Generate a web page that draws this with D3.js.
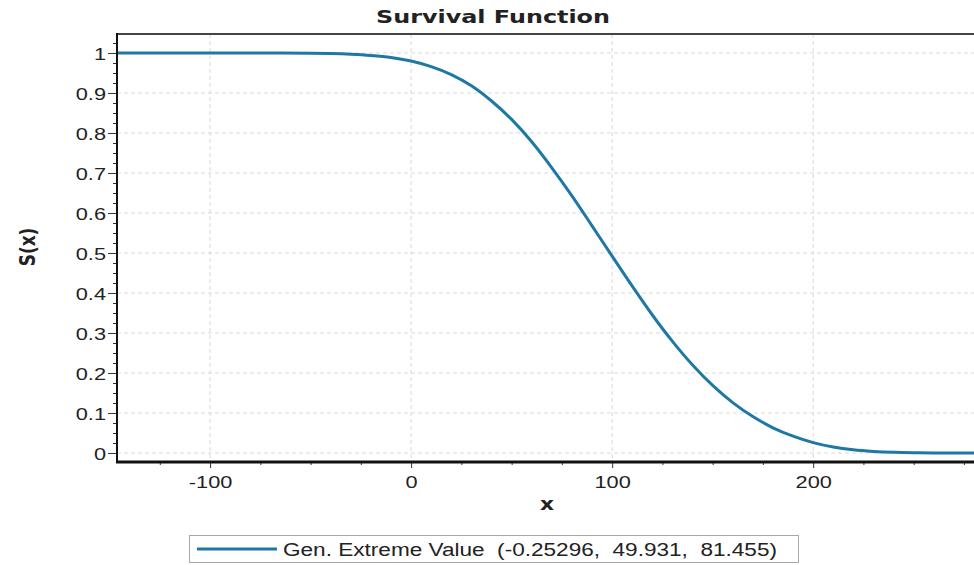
<!DOCTYPE html>
<html>
<head>
<meta charset="utf-8">
<script src="https://cdn.jsdelivr.net/npm/d3@7"></script>
<style>
	body { margin: 0; background: #fff; }
	svg { display: block; }
	text { font-family: "Liberation Sans", Arial, sans-serif; fill: #222; white-space: pre; }
	.bold { font-family: "DejaVu Sans", Verdana, sans-serif; font-weight: bold; }
</style>
</head>
<body>
<svg width="974" height="565"></svg>
<script>

var TITLE		= "Survival Function";
var X_LABEL		= "x";
var Y_LABEL		= "S(x)";
var LEGEND_LABEL	= "Gen. Extreme Value  (-0.25296,  49.931,  81.455)";

// points
var xValues = [-146, -125, -100, -75, -50, -40, -30, -20, -10, 0, 10, 20, 30, 40, 50, 60, 70, 80, 90,
	100, 110, 120, 130, 140, 150, 160, 170, 180, 190, 200, 210, 220, 230, 240, 250, 260, 270, 280];
var sValues = [1.000, 1.000, 1.000, 1.000, 0.9995, 0.9987, 0.997, 0.994, 0.989, 0.980, 0.966, 0.946, 0.918, 0.880, 0.834, 0.778, 0.713, 0.643, 0.568,
	0.492, 0.417, 0.345, 0.279, 0.220, 0.169, 0.126, 0.091, 0.063, 0.042, 0.026, 0.015, 0.008, 0.004, 0.0016, 0.0005, 0.0001, 0, 0];

var xTicks		= [-100, 0, 100, 200];
var xMinorTicks	= [-125, -75, -50, -25, 25, 50, 75, 125, 150, 175, 225, 250, 275];
var yTicks		= [0, 0.1, 0.2, 0.3, 0.4, 0.5, 0.6, 0.7, 0.8, 0.9, 1];
var yMinorTicks	= [];
for ( var i = 0; i <= 41; ++i ) {
	if ( i % 4 != 0 ) yMinorTicks.push(i * 0.025);
}

var STRETCH	= 1.28;
var LINE_COLOR	= "#1f78a4";

function main() {

	var plotLeft = 117, plotRight = 974, plotTop = 34, plotBottom = 462;

	var svg = d3.select("svg");

	var x = d3.scaleLinear().domain([-146.3, 280]).range([plotLeft, plotRight]);
	var y = d3.scaleLinear().domain([-0.0225, 1.0475]).range([plotBottom, plotTop]);

	// grid
	var grid = svg.append("g").attr("stroke", "#d9d9d9").attr("stroke-dasharray", "4,3");

	grid.selectAll(".gy").data(yTicks).enter().append("line")
		.attr("x1", plotLeft).attr("x2", plotRight)
		.attr("y1", function(d) { return y(d); })
		.attr("y2", function(d) { return y(d); });

	grid.selectAll(".gx").data(xTicks).enter().append("line")
		.attr("y1", plotTop).attr("y2", plotBottom)
		.attr("x1", function(d) { return x(d); })
		.attr("x2", function(d) { return x(d); });

	// curve
	svg.append("clipPath").attr("id", "plot")
		.append("rect")
		.attr("x", plotLeft).attr("y", plotTop)
		.attr("width", plotRight - plotLeft).attr("height", plotBottom - plotTop);

	var line = d3.line()
		.x(function(d, i) { return x(xValues[i]); })
		.y(function(d) { return y(d); })
		.curve(d3.curveMonotoneX);

	svg.append("path")
		.datum(sValues)
		.attr("clip-path", "url(#plot)")
		.attr("fill", "none")
		.attr("stroke", LINE_COLOR)
		.attr("stroke-width", 3)
		.attr("d", line);

	// axes
	var yAxis = svg.append("g").attr("transform", "translate(" + plotLeft + ",0)")
		.call(d3.axisLeft(y).tickValues(yTicks).tickSize(9).tickPadding(0).tickFormat(d3.format("~g")));

	svg.append("g").attr("transform", "translate(" + plotLeft + ",0)")
		.call(d3.axisLeft(y).tickValues(yMinorTicks).tickSize(4).tickFormat(""));

	var xAxis = svg.append("g").attr("transform", "translate(0," + plotBottom + ")")
		.call(d3.axisBottom(x).tickValues(xTicks).tickSize(6).tickFormat(function(d) { return String(d); }));

	svg.append("g").attr("transform", "translate(0," + plotBottom + ")")
		.call(d3.axisBottom(x).tickValues(xMinorTicks).tickSize(3).tickFormat(""));

	svg.selectAll(".tick line").attr("stroke", "#333");
	svg.selectAll(".domain").remove();

	yAxis.selectAll(".tick text")
		.attr("font-size", 17)
		.attr("x", -11 / STRETCH)
		.attr("dy", "0.36em")
		.attr("transform", "scale(" + STRETCH + ",1)");

	xAxis.selectAll(".tick text")
		.attr("font-size", 17)
		.attr("y", 26)
		.attr("dy", 0)
		.attr("transform", "scale(" + STRETCH + ",1)");

	svg.selectAll(".tick text").attr("fill", "#222");

	// frame
	svg.append("line").attr("x1", plotLeft).attr("x2", plotRight).attr("y1", plotTop).attr("y2", plotTop)
		.attr("stroke", "#444").attr("stroke-width", 2);
	svg.append("line").attr("x1", plotLeft).attr("x2", plotLeft).attr("y1", plotTop - 1).attr("y2", plotBottom + 1)
		.attr("stroke", "#111").attr("stroke-width", 2);
	svg.append("line").attr("x1", plotLeft - 1).attr("x2", plotRight).attr("y1", plotBottom).attr("y2", plotBottom)
		.attr("stroke", "#111").attr("stroke-width", 3);

	// labels
	svg.append("text").attr("class", "bold")
		.attr("x", 376).attr("y", 22.5)
		.attr("font-size", 17)
		.attr("textLength", 234).attr("lengthAdjust", "spacingAndGlyphs")
		.text(TITLE);

	svg.append("text").attr("class", "bold")
		.attr("transform", "translate(35,247) rotate(-90) scale(1," + STRETCH + ")")
		.attr("text-anchor", "middle")
		.attr("font-size", 17)
		.text(Y_LABEL);

	svg.append("text").attr("class", "bold")
		.attr("transform", "translate(547,510) scale(" + STRETCH + ",1)")
		.attr("text-anchor", "middle")
		.attr("font-size", 17)
		.text(X_LABEL);

	// legend
	var legend = svg.append("g");

	legend.append("rect")
		.attr("x", 189.5).attr("y", 535.5).attr("width", 609).attr("height", 27)
		.attr("fill", "#fff").attr("stroke", "#a8a8a8");

	legend.append("line")
		.attr("x1", 197).attr("x2", 277).attr("y1", 549).attr("y2", 549)
		.attr("stroke", LINE_COLOR).attr("stroke-width", 3);

	legend.append("text")
		.attr("x", 283).attr("y", 556)
		.attr("font-size", 18)
		.attr("textLength", 494).attr("lengthAdjust", "spacingAndGlyphs")
		.text(LEGEND_LABEL);
}

main();

</script>
</body>
</html>
